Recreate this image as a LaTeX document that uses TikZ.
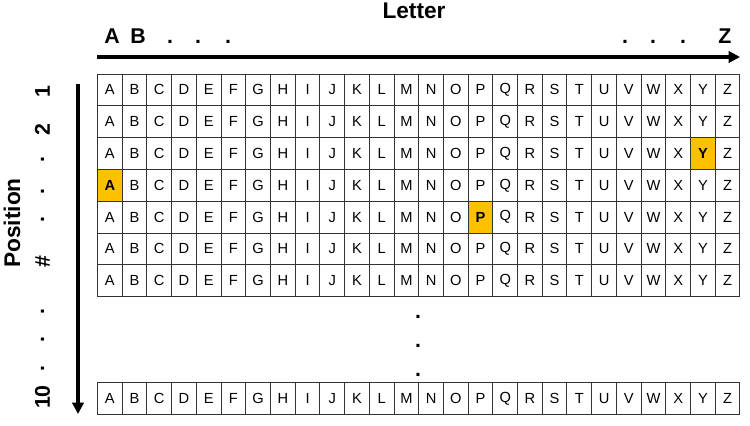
\documentclass[tikz,border=0pt]{standalone}
\usepackage{fontspec}
\setmainfont{Liberation Sans}
\usetikzlibrary{arrows.meta,positioning}
\definecolor{gold}{HTML}{FFC000}
\tikzset{
	cell/.style={draw=black!80, line width=0.75pt, minimum width=18.53pt, minimum height=23.85pt, inner sep=0pt, font=\fontsize{11}{13}\selectfont},
	hot/.style={cell, fill=gold, font=\fontsize{11}{13}\selectfont\bfseries},
	biglab/.style={inner sep=0pt, font=\fontsize{16}{18}\selectfont\bfseries},
	title/.style={inner sep=0pt, font=\fontsize{17}{19}\selectfont\bfseries},
	axis/.style={line width=3pt, -{Triangle[length=8.5pt,width=8.5pt]}},
}

\begin{document}
\begin{tikzpicture}[x=0.75pt,y=-0.75pt]
			%%%%% START %%%%%
			\useasboundingbox (0,0) rectangle (750,425);
			
			% axes
			\coordinate (topL) at (97,57);
			\coordinate (topR) at (740,57);
			\draw[axis] (topL) -- (topR);
			\coordinate (sideT) at (78,84);
			\coordinate (sideB) at (78,414);
			\draw[axis] (sideT) -- (sideB);
			
			% letter axis labels
			\node[title] (letter) at (414,11) {Letter};
			\node[biglab, anchor=base] (labA) at (112,43.5) {A};
			\node[biglab, anchor=base] (labB) at (138,43.5) {B};
			\foreach \x in {170,198,228,625,653,683}
				\node[biglab, anchor=base] at (\x,43.5) {.};
			\node[biglab, anchor=base] (labZ) at (725,43.5) {Z};
			
			% position axis labels
			\node[title, rotate=90] (position) at (12,223) {Position};
			\node[biglab, rotate=90] (pos1) at (42.5,92) {1};
			\node[biglab, rotate=90] (pos2) at (42.5,130) {2};
			\node[biglab, rotate=90] (posnum) at (42.5,262) {\#};
			\node[biglab, rotate=90] (pos10) at (42.5,397) {10};
			\foreach \y in {160,191.5,220,311.5,340,369}
				\node[biglab, rotate=90] at (42.5,\y) {.};
			
			% grid rows 1..7
			\foreach \r in {1,...,7}
				\foreach \l [count=\c] in {A,...,Z}
					\node[cell] (c\r-\l) at ({97.5+(\c-0.5)*24.71},{74+(\r-0.5)*31.8}) {\l};
			
			% row 10
			\foreach \l [count=\c] in {A,...,Z}
				\node[cell] (c10-\l) at ({97.5+(\c-0.5)*24.71},398.6) {\l};
			
			% picked letters
			\node[hot] (hotY) at (c3-Y) {Y};
			\node[hot] (hotA) at (c4-A) {A};
			\node[hot] (hotP) at (c5-P) {P};
			
			% gap dots
			\foreach \y in {317,346,375}
				\node[biglab] at (418,\y) {.};
			
			%%%%% END %%%%%
\end{tikzpicture}
\end{document}
